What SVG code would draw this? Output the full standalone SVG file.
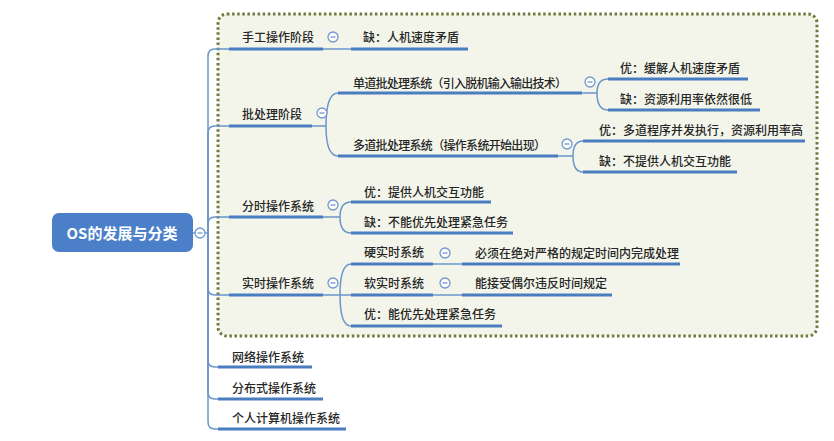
<svg xmlns="http://www.w3.org/2000/svg" width="834" height="441" viewBox="0 0 834 441">
<style>
  .t{font-family:"Noto Sans CJK SC","Noto Sans",sans-serif;font-size:12px;font-weight:500;fill:#262626}
  .u{stroke:#4a7cc0;stroke-width:3;fill:none}
  .c{stroke:#6a95cc;stroke-width:1.5;fill:none}
  .btn circle{fill:#ffffff;stroke:#7297cc;stroke-width:1.3}
  .btn line{stroke:#7297cc;stroke-width:1.3}
</style>
<defs>
  <g id="minus" class="btn"><circle cx="0" cy="0" r="5"/><line x1="-2.5" y1="0" x2="2.5" y2="0"/></g>
</defs>
<rect width="834" height="441" fill="#ffffff"/>
<rect id="frame" x="218" y="14" width="599" height="322" rx="9" fill="#f3f5ea" stroke="#6d7c3c" stroke-width="3" stroke-dasharray="2.5 2.6"/>

<g id="connectors">
  <path class="c" d="M193,233 H208"/>
  <path class="c" d="M208,233 V56 Q208,49 215,49 H229"/>
  <path class="c" d="M208,233 V133 Q208,126 215,126 H229"/>
  <path class="c" d="M208,233 V224 Q208,217 215,217 H229"/>
  <path class="c" d="M208,233 V288 Q208,295 215,295 H229"/>
  <path class="c" d="M208,233 V360 Q208,367 215,367 H218"/>
  <path class="c" d="M208,233 V392 Q208,399 215,399 H218"/>
  <path class="c" d="M208,233 V422 Q208,429 215,429 H218"/>
  <path class="c" d="M323,49 H351"/>
  <path class="c" d="M312,126 H326 M326,126 Q326,93 338,93 M326,126 Q326,156 338,156"/>
  <path class="c" d="M582,93 H597 M597,93 Q597,79 608,79 M597,93 Q597,110 608,110"/>
  <path class="c" d="M558,156 H573 M573,156 Q573,141 583,141 M573,156 Q573,172 583,172"/>
  <path class="c" d="M323,217 H340 M340,217 Q340,202 351,202 M340,217 Q340,233 351,233"/>
  <path class="c" d="M323,295 H351 M340,295 Q340,264 351,264 M340,295 Q340,326 351,326"/>
  <path class="c" d="M433,264 H462"/>
  <path class="c" d="M433,295 H462"/>
</g>

<g id="root">
  <rect x="52" y="213" width="141" height="39" rx="7" fill="#4b80c9"/>
  <text x="122" y="239" text-anchor="middle" font-family="'Noto Sans CJK SC','Noto Sans',sans-serif" font-size="15" font-weight="bold" fill="#ffffff">OS的发展与分类</text>
  <use href="#minus" x="200" y="233"/>
</g>

<g id="n1"><text class="t" x="242" y="41.5">手工操作阶段</text><line class="u" x1="229" y1="49" x2="323" y2="49"/><use href="#minus" x="333" y="37"/></g>
<g id="n1a"><text class="t" x="363" y="41.5">缺：人机速度矛盾</text><line class="u" x1="351" y1="49" x2="468" y2="49"/></g>

<g id="n2"><text class="t" x="242" y="118.5">批处理阶段</text><line class="u" x1="229" y1="126" x2="312" y2="126"/><use href="#minus" x="322" y="113"/></g>
<g id="n2a"><text class="t" x="353" y="87.5" textLength="214" lengthAdjust="spacing">单道批处理系统（引入脱机输入输出技术）</text><line class="u" x1="338" y1="93" x2="582" y2="93"/><use href="#minus" x="590" y="82"/></g>
<g id="n2a1"><text class="t" x="620" y="72.5">优：缓解人机速度矛盾</text><line class="u" x1="608" y1="79" x2="748" y2="79"/></g>
<g id="n2a2"><text class="t" x="620" y="103.5">缺：资源利用率依然很低</text><line class="u" x1="608" y1="110" x2="760" y2="110"/></g>
<g id="n2b"><text class="t" x="353" y="149.5" textLength="193" lengthAdjust="spacing">多道批处理系统（操作系统开始出现）</text><line class="u" x1="338" y1="156" x2="558" y2="156"/><use href="#minus" x="567" y="144"/></g>
<g id="n2b1"><text class="t" x="599" y="134.5">优：多道程序并发执行，资源利用率高</text><line class="u" x1="583" y1="141" x2="805" y2="141"/></g>
<g id="n2b2"><text class="t" x="599" y="165.5">缺：不提供人机交互功能</text><line class="u" x1="583" y1="172" x2="737" y2="172"/></g>

<g id="n3"><text class="t" x="242" y="210.5">分时操作系统</text><line class="u" x1="229" y1="217" x2="323" y2="217"/><use href="#minus" x="333" y="205"/></g>
<g id="n3a"><text class="t" x="364" y="196.5">优：提供人机交互功能</text><line class="u" x1="351" y1="202" x2="491" y2="202"/></g>
<g id="n3b"><text class="t" x="364" y="226.5">缺：不能优先处理紧急任务</text><line class="u" x1="351" y1="233" x2="513" y2="233"/></g>

<g id="n4"><text class="t" x="242" y="287.5">实时操作系统</text><line class="u" x1="229" y1="295" x2="323" y2="295"/><use href="#minus" x="333" y="283"/></g>
<g id="n4a"><text class="t" x="364" y="256.5">硬实时系统</text><line class="u" x1="351" y1="264" x2="433" y2="264"/><use href="#minus" x="445" y="253"/></g>
<g id="n4a1"><text class="t" x="475" y="257.5">必须在绝对严格的规定时间内完成处理</text><line class="u" x1="462" y1="264" x2="680" y2="264"/></g>
<g id="n4b"><text class="t" x="364" y="287.5">软实时系统</text><line class="u" x1="351" y1="295" x2="433" y2="295"/><use href="#minus" x="445" y="283"/></g>
<g id="n4b1"><text class="t" x="475" y="287.5">能接受偶尔违反时间规定</text><line class="u" x1="462" y1="295" x2="612" y2="295"/></g>
<g id="n4c"><text class="t" x="364" y="318.5">优：能优先处理紧急任务</text><line class="u" x1="351" y1="326" x2="502" y2="326"/></g>

<g id="n5"><text class="t" x="232" y="361.5">网络操作系统</text><line class="u" x1="218" y1="367" x2="312" y2="367"/></g>
<g id="n6"><text class="t" x="232" y="392.5">分布式操作系统</text><line class="u" x1="218" y1="399" x2="323" y2="399"/></g>
<g id="n7"><text class="t" x="232" y="422.5">个人计算机操作系统</text><line class="u" x1="218" y1="429" x2="346" y2="429"/></g>
</svg>
